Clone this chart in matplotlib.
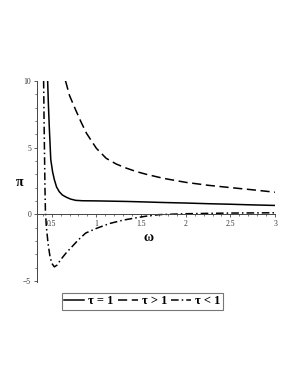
import matplotlib
matplotlib.use("Agg")
import matplotlib.pyplot as plt
from matplotlib.ticker import MultipleLocator

# values
w_eq = [0.455, 0.462, 0.473, 0.49, 0.51, 0.53, 0.555, 0.585, 0.62, 0.66, 0.71, 0.77, 0.85,
        1.0, 1.33, 1.5, 1.75, 2.0, 2.25, 2.5, 2.75, 3.0]
pi_eq = [10.0, 8.5, 6.6, 4.1, 3.2, 2.6, 2.05, 1.7, 1.45, 1.3, 1.15, 1.05, 1.02,
         1.01, 0.97, 0.94, 0.89, 0.85, 0.8, 0.76, 0.71, 0.67]

w_gt = [0.655, 0.7, 0.77, 0.83, 0.89, 1.0, 1.11, 1.22, 1.32, 1.45, 1.56, 1.75, 2.0,
        2.25, 2.45, 2.75, 3.0]
pi_gt = [10.0, 8.9, 7.8, 6.9, 6.07, 4.95, 4.2, 3.78, 3.5, 3.2, 3.0, 2.7, 2.4,
         2.18, 2.04, 1.84, 1.66]

w_lt = [0.41, 0.415, 0.42, 0.425, 0.43, 0.44, 0.46, 0.48, 0.5, 0.53, 0.56, 0.6, 0.66,
        0.73, 0.8, 0.88, 1.0, 1.15, 1.3, 1.45, 1.56, 1.7, 2.0, 2.5, 3.0]
pi_lt = [10.0, 7.0, 4.5, 2.0, 0.3, -0.9, -2.2, -3.1, -3.65, -3.93, -3.8, -3.4, -2.9,
         -2.4, -1.9, -1.4, -1.05, -0.68, -0.43, -0.25, -0.13, -0.02, 0.05, 0.1, 0.12]

labels = ["τ = 1", "τ > 1", "τ < 1"]

plt.rcParams['font.family'] = ['Liberation Serif', 'DejaVu Serif']

fig = plt.figure(figsize=(2.98, 3.85), dpi=100)
ax = fig.add_axes([0.123, 0.268, 0.80, 0.522])

ax.plot(w_eq, pi_eq, color='black', lw=1.1, label=labels[0])
ax.plot(w_gt, pi_gt, color='black', lw=1.1, dashes=(6, 3), label=labels[1])
ax.plot(w_lt, pi_lt, color='black', lw=1.1, dashes=(5, 2, 1, 2), label=labels[2])

ax.set_xlim(0.332, 3.0)
ax.set_ylim(-5.05, 10)

# maple-like axes crossing at the origin
for s in ['top', 'right']:
    ax.spines[s].set_visible(False)
ax.spines['bottom'].set_position(('data', 0))
ax.spines['left'].set_color('#444444')
ax.spines['bottom'].set_color('#444444')
ax.spines['left'].set_linewidth(0.7)
ax.spines['bottom'].set_linewidth(0.7)

ax.set_xticks([0.5, 1, 1.5, 2, 2.5, 3])
ax.set_xticklabels(['0.5', '1', '1.5', '2', '2.5', '3'])
ax.set_yticks([-5, 0, 5, 10])
ax.xaxis.set_minor_locator(MultipleLocator(0.1))
ax.yaxis.set_minor_locator(MultipleLocator(1))
ax.tick_params(which='major', length=2.5, width=0.6, color='#444444', labelsize=5.5,
               pad=1.5, labelcolor='#333333')
ax.tick_params(which='minor', length=1.5, width=0.5, color='#444444')

fig.text(0.067, 0.525, 'π', fontsize=10, fontweight='bold', ha='center', va='center')
fig.text(0.497, 0.384, 'ω', fontsize=10, fontweight='bold', ha='center', va='center')

leg = fig.legend(loc='center', bbox_to_anchor=(0.478, 0.217), ncol=3,
                 prop={'size': 9, 'weight': 'bold'},
                 frameon=True, fancybox=False, handlelength=1.6, handletextpad=0.3,
                 columnspacing=0.35, borderpad=0.2, borderaxespad=0)
leg.get_frame().set_edgecolor('#555555')
leg.get_frame().set_linewidth(0.8)

fig.savefig('out.png', dpi=100)
